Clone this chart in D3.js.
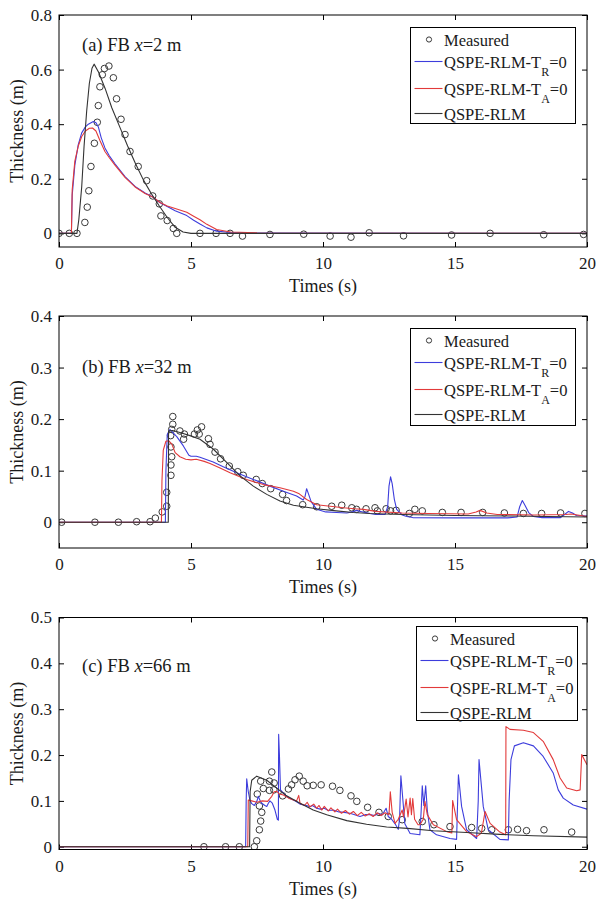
<!DOCTYPE html>
<html lang="en">
<head>
<meta charset="UTF-8" />
<title>FB thickness</title>
<script src="https://d3js.org/d3.v7.min.js"></script>
<style>
  body { margin: 0; background: #fff; }
  text { font-family: "Liberation Serif", "Times New Roman", serif; fill: #1a1a1a; }
  .tick line { stroke: #000; }
</style>
</head>
<body>
<svg id="chart" width="597" height="901"></svg>
<script>
// ---- data: [time (s), thickness (m)] ----
const xTicks = [0, 5, 10, 15, 20];
const seriesNames = ["Measured", "QSPE-RLM-T", "QSPE-RLM-T", "QSPE-RLM"];
const seriesSubs = ["", "R", "A", ""];

// (a) FB x=2 m
const aMeasured = [[0,0],[0.39,0],[0.68,0],[0.98,0.04],[1.07,0.096],[1.13,0.156],[1.21,0.245],[1.34,0.33],[1.45,0.407],[1.49,0.468],[1.55,0.537],[1.64,0.581],[1.72,0.604],[1.89,0.613],[2.06,0.57],[2.18,0.493],[2.35,0.418],[2.5,0.362],[2.69,0.3],[3.0,0.245],[3.32,0.193],[3.55,0.137],[3.8,0.108],[3.86,0.064],[4.1,0.047],[4.33,0.018],[4.46,0],[5.34,0],[5.95,0],[6.48,0],[6.95,-0.01],[7.99,-0.004],[9.27,-0.003],[10.27,-0.01],[11.06,-0.014],[11.75,0.002],[13.05,-0.009],[14.87,-0.006],[16.33,0],[18.36,-0.005],[19.87,-0.004]];
const aBlue = [[0,0],[0.47,0],[0.5,0.14],[0.6,0.25],[0.73,0.325],[0.86,0.368],[1.0,0.39],[1.11,0.4],[1.3,0.41],[1.4,0.405],[1.49,0.39],[1.6,0.35],[1.74,0.313],[1.9,0.285],[2.12,0.255],[2.5,0.208],[2.88,0.172],[3.26,0.148],[3.55,0.133],[3.83,0.112],[4.1,0.098],[4.4,0.083],[4.84,0.065],[5.1,0.048],[5.34,0.034],[5.6,0.02],[5.97,0.008],[6.5,0.003],[7.5,0.001],[20,0]];
const aRed = [[0,0],[0.47,0],[0.5,0.16],[0.6,0.265],[0.73,0.32],[0.86,0.355],[1.0,0.375],[1.15,0.385],[1.27,0.386],[1.4,0.375],[1.55,0.34],[1.74,0.3],[1.9,0.278],[2.12,0.25],[2.5,0.205],[2.88,0.17],[3.26,0.146],[3.55,0.133],[3.83,0.113],[4.1,0.1],[4.4,0.091],[4.84,0.077],[5.1,0.063],[5.34,0.05],[5.6,0.033],[5.97,0.014],[6.5,0.005],[7.5,0.002],[20,0]];
const aBlack = [[0,0],[0.68,0],[0.75,0.05],[0.86,0.17],[0.95,0.32],[1.05,0.45],[1.15,0.55],[1.25,0.605],[1.33,0.62],[1.5,0.59],[1.75,0.53],[2.0,0.46],[2.3,0.39],[2.6,0.32],[2.9,0.255],[3.2,0.195],[3.5,0.145],[3.8,0.1],[4.1,0.058],[4.4,0.022],[4.7,0.005],[5.0,0],[20,0]];

// (b) FB x=32 m
const bMeasured = [[0.1,0],[1.36,0],[2.25,0],[2.94,0.001],[3.45,0.001],[3.65,0.008],[3.91,0.02],[4.08,0.031],[4.08,0.058],[4.24,0.091],[4.24,0.111],[4.27,0.127],[4.24,0.146],[4.23,0.168],[4.27,0.18],[4.31,0.19],[4.31,0.205],[4.58,0.177],[4.75,0.171],[4.72,0.161],[5.13,0.171],[5.24,0.179],[5.31,0.171],[5.4,0.185],[5.66,0.162],[5.72,0.151],[5.91,0.136],[6.12,0.123],[6.45,0.109],[6.77,0.098],[6.98,0.091],[7.47,0.083],[7.7,0.075],[8.02,0.065],[8.47,0.054],[8.62,0.042],[9.23,0.034],[9.76,0.03],[10.33,0.031],[10.71,0.033],[11.09,0.028],[11.27,0.025],[11.63,0.026],[11.97,0.028],[12.06,0.022],[12.39,0.026],[12.56,0.022],[12.77,0.023],[13.27,0.017],[13.48,0.025],[13.76,0.022],[14.52,0.019],[15.23,0.019],[16.05,0.019],[16.87,0.018],[17.59,0.017],[18.28,0.017],[19.0,0.018],[19.92,0.017]];
const bBlue = [[0,0],[4.03,0],[4.05,0.1],[4.1,0.17],[4.2,0.18],[4.46,0.166],[4.71,0.148],[4.92,0.13],[5.0,0.128],[5.2,0.128],[5.34,0.126],[5.84,0.117],[6.2,0.108],[6.73,0.096],[7.36,0.083],[7.99,0.07],[8.5,0.06],[9.0,0.051],[9.25,0.043],[9.32,0.05],[9.38,0.065],[9.45,0.055],[9.55,0.04],[9.76,0.025],[10.1,0.02],[10.52,0.019],[10.9,0.018],[11.1,0.02],[11.27,0.023],[11.5,0.02],[11.78,0.017],[12.0,0.015],[12.35,0.015],[12.45,0.03],[12.5,0.07],[12.56,0.088],[12.62,0.075],[12.7,0.045],[12.79,0.025],[13.0,0.014],[13.17,0.011],[13.4,0.009],[15,0.0085],[17.0,0.0085],[17.35,0.01],[17.45,0.03],[17.55,0.042],[17.65,0.033],[17.8,0.018],[17.97,0.011],[18.3,0.009],[19.0,0.009],[19.15,0.015],[19.3,0.021],[19.45,0.018],[19.6,0.013],[20,0.012]];
const bRed = [[0,0],[3.88,0],[3.9,0.08],[3.95,0.14],[4.05,0.157],[4.15,0.158],[4.27,0.152],[4.4,0.135],[4.58,0.127],[4.8,0.122],[5.0,0.121],[5.2,0.122],[5.5,0.118],[5.72,0.114],[6.1,0.105],[6.48,0.096],[7.1,0.083],[7.74,0.073],[8.37,0.067],[8.88,0.06],[9.1,0.055],[9.38,0.044],[9.76,0.034],[10.27,0.031],[10.77,0.028],[11.2,0.026],[11.53,0.025],[12,0.021],[13,0.018],[14,0.017],[15.5,0.016],[15.8,0.02],[15.95,0.023],[16.2,0.018],[16.6,0.015],[18,0.014],[19.2,0.015],[19.4,0.016],[20,0.011]];
const bBlack = [[0,0],[4.14,0],[4.15,0.177],[4.3,0.178],[4.58,0.174],[4.96,0.168],[5.34,0.161],[5.84,0.142],[6.35,0.116],[6.86,0.09],[7.36,0.07],[7.87,0.054],[8.37,0.041],[8.88,0.033],[9.25,0.03],[9.76,0.026],[10.5,0.022],[11.15,0.019],[11.78,0.017],[13,0.015],[15,0.013],[17,0.012],[20,0.01]];

// (c) FB x=66 m
const cMeasured = [[5.49,0],[6.31,0],[6.83,0],[7.4,0],[7.49,0.013],[7.59,0.037],[7.64,0.056],[7.68,0.075],[7.59,0.089],[7.51,0.115],[7.64,0.143],[7.74,0.127],[7.97,0.143],[8.06,0.163],[7.97,0.123],[8.14,0.124],[8.15,0.139],[8.47,0.111],[8.69,0.126],[8.81,0.135],[8.94,0.146],[9.1,0.154],[9.25,0.143],[9.4,0.133],[9.63,0.134],[9.93,0.135],[10.36,0.132],[10.64,0.123],[11.06,0.111],[11.28,0.099],[11.69,0.086],[12.12,0.075],[12.47,0.066],[13.0,0.059],[13.76,0.055],[14.2,0.048],[14.81,0.044],[15.63,0.042],[16.01,0.04],[16.39,0.037],[17.02,0.037],[17.37,0.038],[17.71,0.035],[18.37,0.037],[19.42,0.032]];
const cBlue = [[0,0],[7.07,0],[7.09,0.1],[7.11,0.148],[7.17,0.12],[7.23,0.102],[7.3,0.094],[7.4,0.09],[7.5,0.1],[7.55,0.11],[7.62,0.1],[7.68,0.095],[7.8,0.09],[7.87,0.088],[7.93,0.095],[7.99,0.1],[8.08,0.095],[8.18,0.08],[8.27,0.06],[8.31,0.058],[8.32,0.245],[8.35,0.2],[8.39,0.124],[8.56,0.113],[8.7,0.107],[8.88,0.102],[9.0,0.098],[9.13,0.093],[9.38,0.09],[9.5,0.087],[9.6,0.09],[9.76,0.084],[9.9,0.082],[10.05,0.084],[10.2,0.079],[10.39,0.08],[10.6,0.076],[10.8,0.075],[11.02,0.073],[11.2,0.07],[11.4,0.066],[11.6,0.07],[11.78,0.07],[11.95,0.068],[12.1,0.073],[12.25,0.07],[12.39,0.084],[12.47,0.066],[12.6,0.06],[12.73,0.05],[12.85,0.038],[12.9,0.06],[12.95,0.155],[13.0,0.12],[13.1,0.05],[13.3,0.029],[13.67,0.026],[13.72,0.08],[13.76,0.133],[13.82,0.09],[13.89,0.133],[13.95,0.08],[14.05,0.037],[14.3,0.026],[14.81,0.018],[15.06,0.016],[15.1,0.1],[15.13,0.157],[15.25,0.088],[15.44,0.037],[15.82,0.018],[15.88,0.1],[15.91,0.19],[16.07,0.088],[16.26,0.037],[16.7,0.016],[17.02,0.015],[17.05,0.1],[17.12,0.19],[17.25,0.22],[17.59,0.227],[17.97,0.22],[18.34,0.197],[18.72,0.161],[18.91,0.124],[19.1,0.106],[19.48,0.091],[20,0.082]];
const cRed = [[0,0],[7.15,0],[7.17,0.102],[7.3,0.1],[7.5,0.097],[7.7,0.1],[7.9,0.099],[8.06,0.11],[8.15,0.12],[8.25,0.121],[8.35,0.115],[8.5,0.113],[8.7,0.106],[8.88,0.102],[9.0,0.1],[9.08,0.112],[9.13,0.095],[9.3,0.09],[9.4,0.097],[9.5,0.087],[9.65,0.093],[9.76,0.084],[9.85,0.09],[9.95,0.08],[10.05,0.088],[10.2,0.078],[10.3,0.085],[10.45,0.076],[10.55,0.082],[10.7,0.073],[10.85,0.079],[11.0,0.071],[11.15,0.077],[11.3,0.068],[11.45,0.075],[11.6,0.067],[11.75,0.072],[11.9,0.066],[12.05,0.074],[12.2,0.068],[12.35,0.074],[12.5,0.07],[12.55,0.12],[12.62,0.075],[12.73,0.051],[12.85,0.06],[13.0,0.08],[13.05,0.065],[13.15,0.104],[13.22,0.065],[13.3,0.106],[13.35,0.07],[13.4,0.105],[13.47,0.06],[13.6,0.048],[13.67,0.048],[13.8,0.06],[13.86,0.099],[13.95,0.07],[14.18,0.048],[14.69,0.033],[14.88,0.03],[14.91,0.101],[15.06,0.059],[15.44,0.033],[15.82,0.022],[16.0,0.03],[16.14,0.077],[16.33,0.051],[16.7,0.032],[16.92,0.026],[16.93,0.262],[17.08,0.256],[17.59,0.254],[17.97,0.249],[18.34,0.23],[18.72,0.19],[18.98,0.15],[19.23,0.128],[19.61,0.122],[19.74,0.124],[19.8,0.201],[19.9,0.19],[20,0.179]];
const cBlack = [[0,0],[7.22,0],[7.24,0.12],[7.3,0.145],[7.49,0.154],[7.87,0.145],[8.25,0.128],[8.62,0.111],[9.13,0.095],[9.63,0.08],[10.14,0.07],[10.9,0.057],[11.65,0.049],[12.41,0.043],[13.2,0.04],[14.18,0.035],[15.44,0.031],[16.7,0.027],[17.97,0.024],[20,0.021]];

// ---- layout ----
const colors = { blue: "#3d3ddc", red: "#e23a3a", black: "#333333", marker: "#3a3a3a" };
const left = 59, right = 587;

const panels = [
  { tag: "a", xpos: "2", top: 15, bottom: 247, yDomain: [-0.05, 0.8], yTicks: [0, 0.2, 0.4, 0.6, 0.8],
    measured: aMeasured, blue: aBlue, red: aRed, black: aBlack, labelY: 51, legend: { x: 410.5, y: 27.5, w: 165, h: 96 } },
  { tag: "b", xpos: "32", top: 316, bottom: 548, yDomain: [-0.05, 0.4], yTicks: [0, 0.1, 0.2, 0.3, 0.4],
    measured: bMeasured, blue: bBlue, red: bRed, black: bBlack, labelY: 373, legend: { x: 410.5, y: 328.5, w: 165, h: 97 } },
  { tag: "c", xpos: "66", top: 617.5, bottom: 849.5, yDomain: [-0.006, 0.5], yTicks: [0, 0.1, 0.2, 0.3, 0.4, 0.5],
    measured: cMeasured, blue: cBlue, red: cRed, black: cBlack, labelY: 672, legend: { x: 416.5, y: 626.5, w: 161, h: 94 } }
];

const svg = d3.select("#chart");
svg.append("rect").attr("width", 597).attr("height", 901).attr("fill", "#fff");

panels.forEach((p, i) => drawPanel(p, i));

function drawPanel(p, i) {
  const x = d3.scaleLinear().domain([0, 20]).range([left, right]);
  const y = d3.scaleLinear().domain(p.yDomain).range([p.bottom, p.top]);
  const g = svg.append("g");

  const clipId = "clip" + i;
  g.append("clipPath").attr("id", clipId)
    .append("rect").attr("x", left).attr("y", p.top)
    .attr("width", right - left).attr("height", p.bottom - p.top);

  // axes with inward ticks
  const fmt = d => d === 0 ? "0" : d.toFixed(1);
  g.append("g").attr("transform", `translate(0,${p.bottom})`)
    .call(d3.axisBottom(x).tickValues(xTicks).tickSize(-5).tickPadding(10).tickFormat(d3.format("d")))
    .call(a => a.select(".domain").remove())
    .selectAll("text").style("font-size", "17px");
  g.append("g").attr("transform", `translate(0,${p.top})`)
    .call(d3.axisTop(x).tickValues(xTicks).tickSize(-5).tickFormat(""))
    .call(a => a.select(".domain").remove());
  g.append("g").attr("transform", `translate(${left},0)`)
    .call(d3.axisLeft(y).tickValues(p.yTicks).tickSize(-5).tickPadding(7).tickFormat(fmt))
    .call(a => a.select(".domain").remove())
    .selectAll("text").style("font-size", "17px");
  g.append("g").attr("transform", `translate(${right},0)`)
    .call(d3.axisRight(y).tickValues(p.yTicks).tickSize(-5).tickFormat(""))
    .call(a => a.select(".domain").remove());

  // data
  const plot = g.append("g").attr("clip-path", `url(#${clipId})`);
  plot.selectAll("circle").data(p.measured).enter().append("circle")
    .attr("cx", d => x(d[0])).attr("cy", d => y(d[1])).attr("r", 3.3)
    .attr("fill", "none").attr("stroke", colors.marker).attr("stroke-width", 1);

  const line = d3.line().x(d => x(d[0])).y(d => y(d[1]));
  [[p.blue, colors.blue], [p.red, colors.red], [p.black, colors.black]].forEach(([data, c]) => {
    plot.append("path").datum(data).attr("d", line)
      .attr("fill", "none").attr("stroke", c).attr("stroke-width", 1.1)
      .attr("stroke-linejoin", "round");
  });

  // frame
  g.append("rect").attr("x", left).attr("y", p.top)
    .attr("width", right - left).attr("height", p.bottom - p.top)
    .attr("fill", "none").attr("stroke", "#000").attr("stroke-width", 1);

  // axis titles
  g.append("text").attr("x", (left + right) / 2).attr("y", p.bottom + 45)
    .attr("text-anchor", "middle").style("font-size", "18px").text("Times (s)");
  g.append("text")
    .attr("transform", `translate(23,${(p.top + p.bottom) / 2}) rotate(-90)`)
    .attr("text-anchor", "middle").style("font-size", "18px").text("Thickness (m)");

  // panel tag
  const tag = g.append("text").attr("x", 82).attr("y", p.labelY).style("font-size", "18.5px");
  tag.append("tspan").text(`(${p.tag}) FB `);
  tag.append("tspan").style("font-style", "italic").text("x");
  tag.append("tspan").text(`=${p.xpos} m`);

  // legend
  const L = p.legend;
  const lg = g.append("g").attr("transform", `translate(${L.x},${L.y})`);
  lg.append("rect").attr("width", L.w).attr("height", L.h)
    .attr("fill", "#fff").attr("stroke", "#000").attr("stroke-width", 1);
  const rows = [12, 34, 61, 86];
  const rowColors = [colors.marker, colors.blue, colors.red, colors.black];
  rows.forEach((ry, k) => {
    if (k === 0) {
      lg.append("circle").attr("cx", 18.5).attr("cy", ry).attr("r", 2.6)
        .attr("fill", "none").attr("stroke", colors.marker).attr("stroke-width", 1);
    } else {
      lg.append("line").attr("x1", 4).attr("x2", 32).attr("y1", ry).attr("y2", ry)
        .attr("stroke", rowColors[k]).attr("stroke-width", 1.1);
    }
    const t = lg.append("text").attr("x", 33.5).attr("y", ry + 6).style("font-size", "16.5px");
    t.append("tspan").text(seriesNames[k]);
    if (seriesSubs[k]) {
      t.append("tspan").attr("dy", 8).style("font-size", "12px").text(seriesSubs[k]);
      t.append("tspan").attr("dy", -8).text("=0");
    }
  });
}
</script>
</body>
</html>
